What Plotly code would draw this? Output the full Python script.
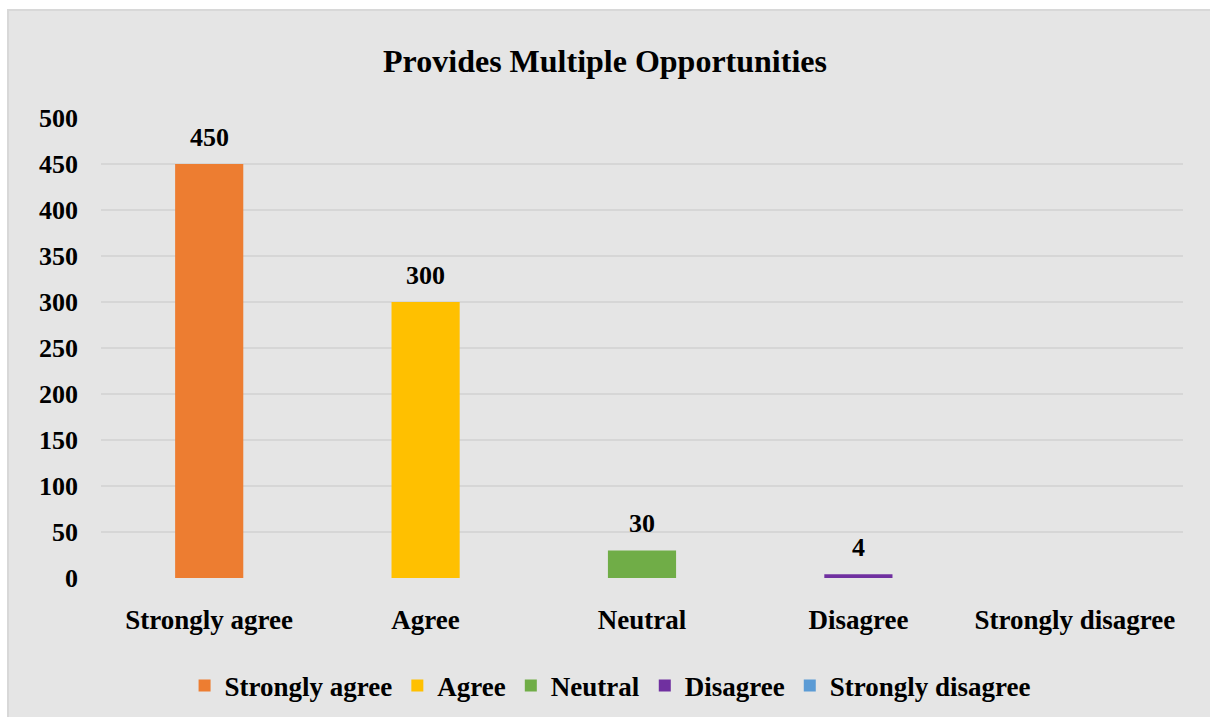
import plotly.graph_objects as go

categories = ["Strongly agree", "Agree", "Neutral", "Disagree", "Strongly disagree"]
values = [450, 300, 30, 4, 0]
colors = ["#ED7D31", "#FFC000", "#70AD47", "#7030A0", "#5B9BD5"]
tick_vals = [0, 50, 100, 150, 200, 250, 300, 350, 400, 450, 500]

FONT = "Liberation Serif"

fig = go.Figure()
for cat, val, col in zip(categories, values, colors):
    fig.add_trace(go.Bar(
        x=[cat], y=[val], name=cat,
        marker=dict(color=col, line=dict(width=0)),
        width=0.315,
        offset=-0.1575,
    ))
    if val > 0:
        fig.add_annotation(x=cat, y=val, text=f"<b>{val}</b>", showarrow=False,
                           yanchor="bottom", yshift=10,
                           font=dict(family=FONT, size=26, color="black"))

W, H = 1210, 717
ml, mr, mt, mb = 101, W - 1183, 118, H - 578
pw, ph = W - ml - mr, H - mt - mb

fig.update_layout(
    width=W, height=H,
    margin=dict(l=ml, r=mr, t=mt, b=mb, pad=0, autoexpand=False),
    paper_bgcolor="white",
    plot_bgcolor="rgba(0,0,0,0)",
    barmode="overlay",
    title=dict(text="<b>Provides Multiple Opportunities</b>",
               font=dict(family=FONT, size=32, color="black"),
               x=0.5, xanchor="center", y=1 - 61 / H, yanchor="middle"),
    font=dict(family=FONT, color="black"),
    showlegend=True,
    legend=dict(orientation="h", x=0.4705, xanchor="center",
                y=(578 - 686) / ph, yanchor="middle",
                font=dict(family=FONT, size=27, color="black", weight="bold"),
                bgcolor="rgba(0,0,0,0)", itemwidth=30, traceorder="normal"),
    xaxis=dict(type="category", categoryorder="array", categoryarray=categories,
               showgrid=False, zeroline=False, showline=False, ticks="",
               automargin=False,
               tickfont=dict(family=FONT, size=27, color="black", weight="bold"),
               ticklabelstandoff=23),
    yaxis=dict(range=[0, 500], tickvals=tick_vals, showgrid=True,
               gridcolor="#D6D6D6", gridwidth=2, zeroline=False, showline=False,
               automargin=False,
               ticks="", tickfont=dict(family=FONT, size=26, color="black", weight="bold"),
               ticklabelstandoff=22),
)

fig.add_shape(type="rect", xref="paper", yref="paper", layer="below",
              x0=(8 - ml) / pw, x1=(W + 10 - ml) / pw,
              y0=(578 - (H + 10)) / ph, y1=(578 - 10) / ph,
              fillcolor="#E5E5E5", line=dict(color="#D8D8D8", width=2))

fig.write_html("out.html", config={"displayModeBar": False},
               post_script="document.body.style.margin='0';document.body.style.overflow='hidden';")
